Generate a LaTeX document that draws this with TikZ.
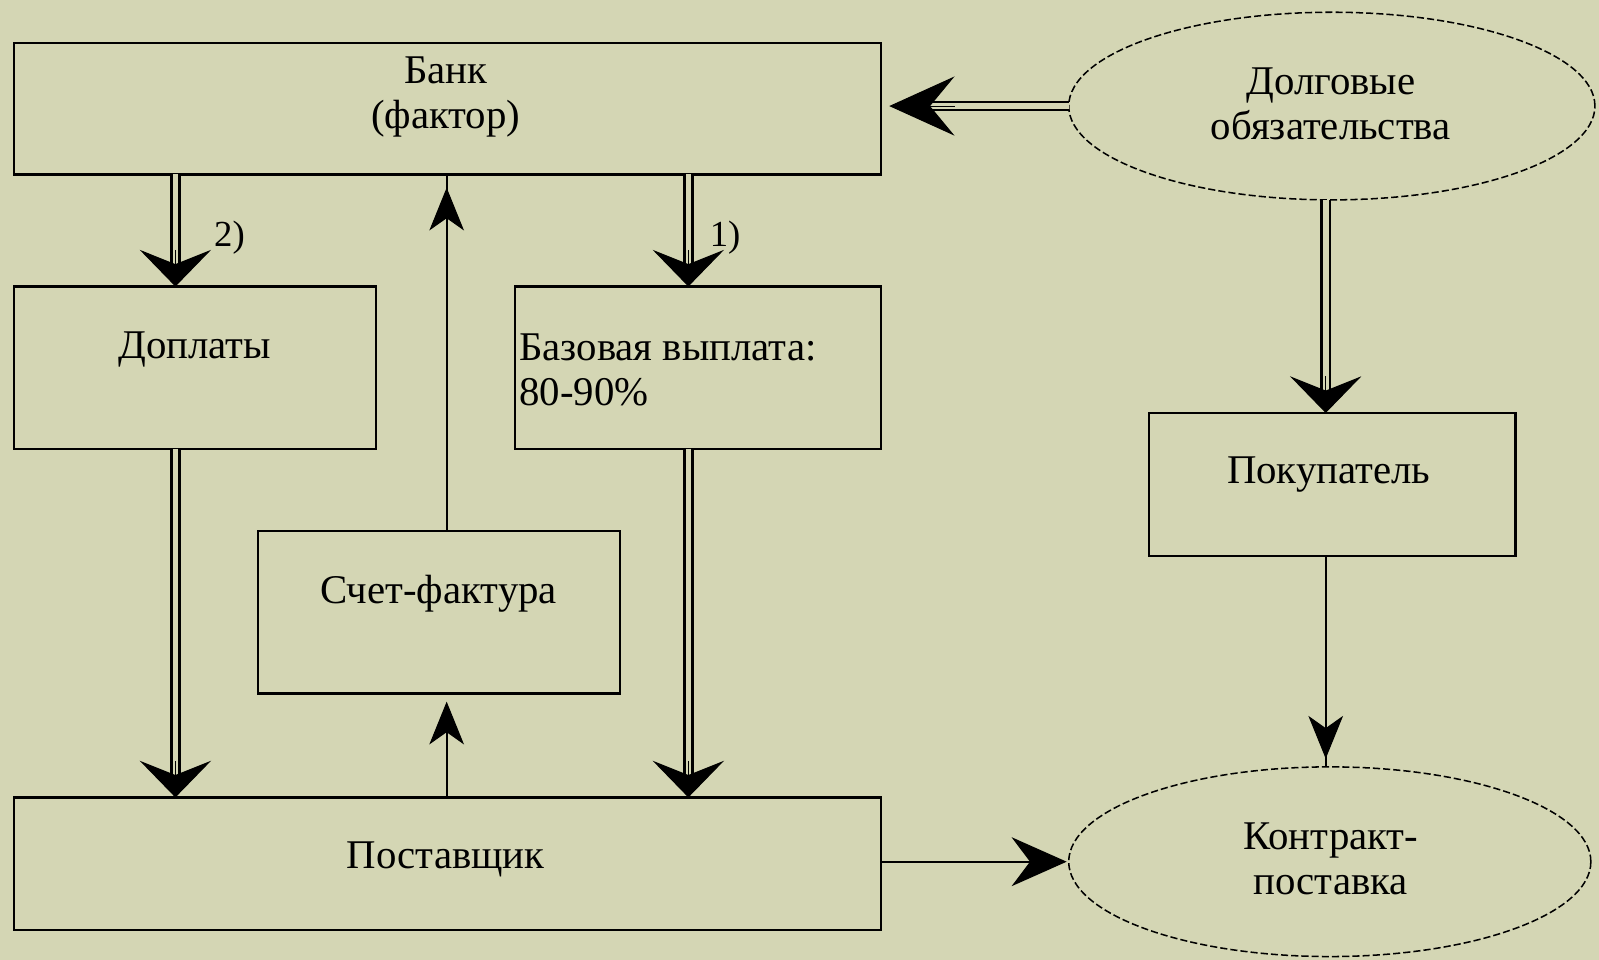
\documentclass[tikz,border=0pt]{standalone}
\usepackage{fontspec}
\setmainfont{Liberation Serif}
\usetikzlibrary{arrows.meta,shapes.geometric}
\definecolor{bg}{RGB}{212,214,180}
\begin{document}
\begin{tikzpicture}[x=1pt,y=-1pt,
  box/.style={draw, line width=2.2pt, inner sep=0pt, outer sep=0pt},
  oval/.style={ellipse, draw, line width=1.5pt, dash pattern=on 7pt off 3pt, inner sep=0pt, outer sep=0pt},
  txt/.style={font=\fontsize{40}{44}\selectfont, align=center, inner sep=0pt},
  lab/.style={font=\fontsize{36}{40}\selectfont, inner sep=0pt},
  dbl/.style={draw, line width=2.4pt, double=bg, double distance=5.5pt},
  sgl/.style={draw, line width=2.2pt},
  headD/.style={line width=1pt, -{Stealth[length=36pt,width=70pt,inset=14pt]}},
  headL/.style={line width=1pt, -{Stealth[length=64pt,width=58pt,inset=24pt]}},
  headS/.style={line width=1pt, -{Stealth[length=42pt,width=34pt,inset=12pt]}},
  headR/.style={line width=1pt, -{Stealth[length=54pt,width=48pt,inset=18pt]}}
]
\fill[bg] (0,0) rectangle (1568,941);
\useasboundingbox (0,0) rectangle (1568,941);

% x positions of vertical connectors
\coordinate (c1) at (172,0);
\coordinate (c2) at (675,0);
\coordinate (c3) at (438,0);
\coordinate (c4) at (1300,0);

% boxes
\node[box, minimum width=850pt, minimum height=129pt] (bank) at (439,106.5) {};
\node[txt] (bankT) at (437,95) {Банк\\(фактор)};

\node[box, minimum width=355pt, minimum height=159pt] (dop) at (191.5,360.5) {};
\node[txt] (dopT) at (191,343) {Доплаты};

\node[box, minimum width=359pt, minimum height=159pt] (base) at (684.5,360.5) {};
\node[txt, align=left, anchor=west] (baseT) at (509,363) {Базовая выплата:\\80-90\%};

\node[box, minimum width=355pt, minimum height=159pt] (inv) at (430.5,600.5) {};
\node[txt] (invT) at (430,582) {Счет-фактура};

\node[box, minimum width=850pt, minimum height=130pt] (post) at (439,847) {};
\node[txt] (postT) at (437,843) {Поставщик};

\node[box, minimum width=359pt, minimum height=140pt] (buy) at (1306.5,475) {};
\node[txt] (buyT) at (1303,465) {Покупатель};

\node[oval, minimum width=516pt, minimum height=184pt] (debt) at (1306,104) {};
\node[txt] (debtT) at (1305,102) {Долговые\\обязательства};

\node[oval, minimum width=512pt, minimum height=186pt] (contr) at (1304,845) {};
\node[txt] (contrT) at (1305,842) {Контракт-\\поставка};

% labels
\node[lab] (lab2) at (225,233) {2)};
\node[lab] (lab1) at (711,233) {1)};

% bank -> dop (double)
\draw[dbl, shorten >=19pt] (bank.south -| c1) -- (dop.north -| c1);
\draw[headD] ([yshift=36pt]dop.north -| c1) -- (dop.north -| c1);

% bank -> base (double)
\draw[dbl, shorten >=19pt] (bank.south -| c2) -- (base.north -| c2);
\draw[headD] ([yshift=36pt]base.north -| c2) -- (base.north -| c2);

% dop -> post (double)
\draw[dbl, shorten >=19pt] (dop.south -| c1) -- (post.north -| c1);
\draw[headD] ([yshift=36pt]post.north -| c1) -- (post.north -| c1);

% base -> post (double)
\draw[dbl, shorten >=19pt] (base.south -| c2) -- (post.north -| c2);
\draw[headD] ([yshift=36pt]post.north -| c2) -- (post.north -| c2);

% inv -> bank (single)
\draw[sgl] (inv.north -| c3) -- (bank.south -| c3);
\draw[headS] ([yshift=-55pt]bank.south -| c3) -- ([yshift=-13pt]bank.south -| c3);

% post -> inv (single)
\draw[sgl, shorten >=30pt] (post.north -| c3) -- (inv.south -| c3);
\draw[headS] ([yshift=-50pt]inv.south -| c3) -- ([yshift=-8pt]inv.south -| c3);

% debt -> bank (double, leftwards)
\draw[dbl, shorten >=44pt] (debt.west) -- (bank.east |- debt.west);
\draw[headL] ([xshift=72pt]bank.east |- debt.west) -- ([xshift=8pt]bank.east |- debt.west);

% debt -> buy (double)
\draw[dbl, shorten >=19pt] (debt.south -| c4) -- (buy.north -| c4);
\draw[headD] ([yshift=36pt]buy.north -| c4) -- (buy.north -| c4);

% buy -> contr (single)
\draw[sgl] (buy.south -| c4) -- (contr.north -| c4);
\draw[headS] ([yshift=50pt]contr.north -| c4) -- ([yshift=8pt]contr.north -| c4);

% post -> contr (single)
\draw[sgl, shorten >=30pt] (post.east |- contr.west) -- (contr.west);
\draw[headR] ([xshift=-56pt]contr.west) -- ([xshift=-2pt]contr.west);
\end{tikzpicture}
\end{document}
